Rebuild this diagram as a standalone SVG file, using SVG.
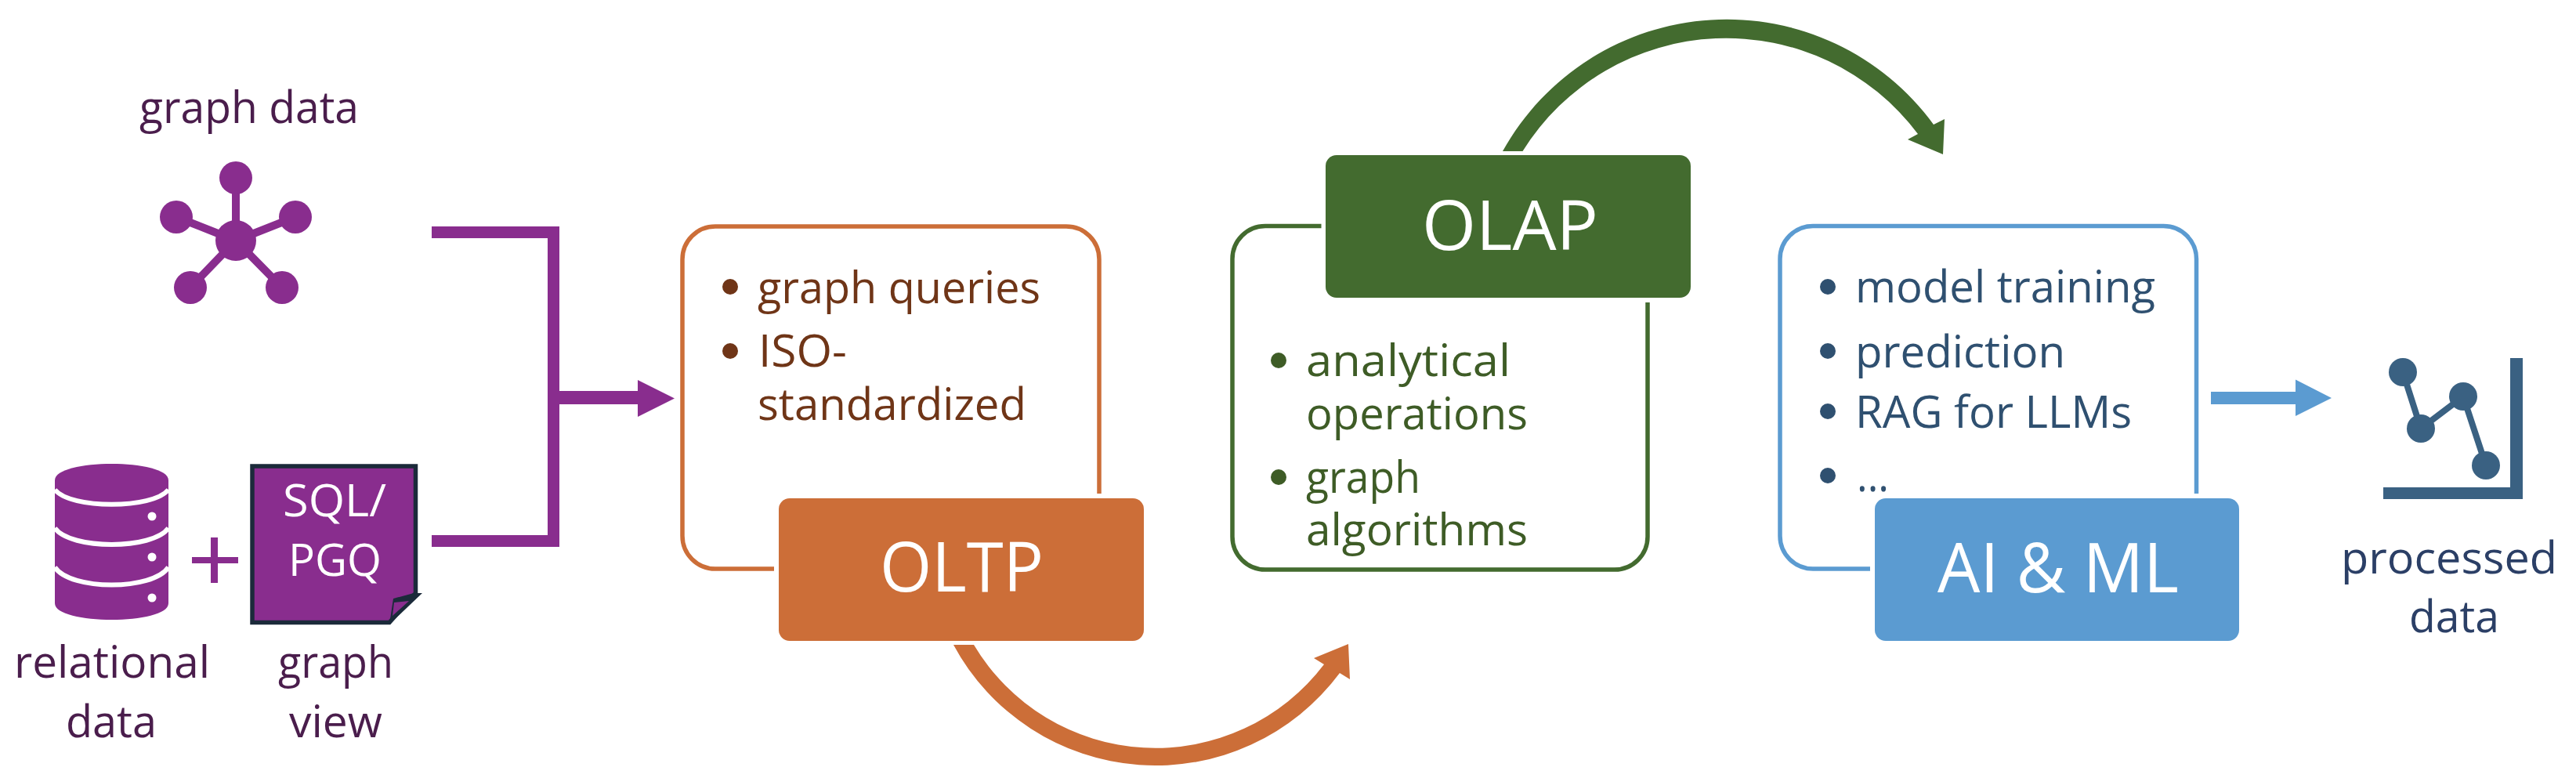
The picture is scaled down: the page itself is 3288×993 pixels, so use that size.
<svg xmlns="http://www.w3.org/2000/svg" width="3288" height="993" viewBox="0 0 3288 993">
<style>
text{font-family:"Open Sans","Noto Sans","Liberation Sans",sans-serif;font-weight:500}
.lab{font-size:56px}
.purple{fill:#4A1D4C}
.white{fill:#fff}
.title{font-size:88px;fill:#fff;font-weight:400}
.or{fill:#6F3517}.gr{fill:#3E5C26}.bl{fill:#2F5070}.pr{fill:#2B3F66}
.panel{fill:none;stroke-width:5.500}
.p{fill:#892D8E}
.ps{stroke:#892D8E;fill:none}
</style>
<rect width="3288" height="993" fill="#fff"/>
<g id="connectors">
<path class="p" d="M551 289H714V698H551V683H699V304H551Z"/>
<path class="p" d="M705 499H814V485L861 508.500L814 532V516H705Z"/>
<path fill="#CC6E38" d="M1217 823L1243 823A270 270 0 0 0 1690 848L1677 840L1721 822L1723 867L1710 859A293 293 0 0 1 1217 823Z"/>
<path fill="#436B2F" d="M1918 193L1943.500 193A306 306 0 0 1 2448 171L2435 178L2480 197L2482 152L2468 159A327 327 0 0 0 1918 193Z"/>
<path fill="#5B9BD1" d="M2822 500H2930V484.500L2976 508L2930 531V516H2822Z"/>
</g>
<g id="graph-data">
<text class="lab purple" x="178" y="157" textLength="280" lengthAdjust="spacingAndGlyphs">graph data</text>
<path class="ps" stroke-width="10" d="M301 227V307M225 277L301 307L377 277M243 367L301 307L360 367"/>
<circle class="p" cx="301" cy="307" r="26"/>
<circle class="p" cx="301" cy="227" r="21"/>
<circle class="p" cx="225" cy="277" r="21"/>
<circle class="p" cx="377" cy="277" r="21"/>
<circle class="p" cx="243" cy="367" r="21"/>
<circle class="p" cx="360" cy="367" r="21"/>
</g>
<g id="relational-data">
<path class="p" d="M70 613C70 585 215 585 215 613V770C215 798 70 798 70 770Z"/>
<path d="M70 625C90 650 195 650 215 625M70 674C90 702 195 702 215 674M70 724C90 754 195 754 215 724" fill="none" stroke="#fff" stroke-width="6"/>
<circle cx="194" cy="659" r="5.500" fill="#fff"/>
<circle cx="194" cy="711" r="5.500" fill="#fff"/>
<circle cx="194" cy="763" r="5.500" fill="#fff"/>
<text class="lab purple" x="18" y="865" textLength="250" lengthAdjust="spacingAndGlyphs">relational</text>
<text class="lab purple" x="84" y="941" textLength="116" lengthAdjust="spacingAndGlyphs">data</text>
</g>
<g id="plus"><path class="p" d="M245 711H269V686H278V711H304V719H278V744H269V719H245Z"/></g>
<g id="graph-view">
<path class="p" stroke="#1B2A3A" stroke-width="5.500" d="M322 595H530.500V757L497 794.500H322Z"/>
<path fill="#1B2A3A" d="M539 757L497 797L502 764L528 757Z"/>
<path fill="#892D8E" d="M522 767L503 769L501 786Z"/>
<text class="lab white" x="361" y="659" textLength="132" lengthAdjust="spacingAndGlyphs">SQL/</text>
<text class="lab white" x="368" y="735" textLength="119" lengthAdjust="spacingAndGlyphs">PGQ</text>
<text class="lab purple" x="355" y="865" textLength="147" lengthAdjust="spacingAndGlyphs">graph</text>
<text class="lab purple" x="369" y="941" textLength="119" lengthAdjust="spacingAndGlyphs">view</text>
</g>
<g id="oltp">
<path class="panel" stroke="#CC6E38" d="M988 726H913A42 42 0 0 1 871 684V331A42 42 0 0 1 913 289H1361A42 42 0 0 1 1403 331V630"/>
<rect x="994" y="636" width="466" height="182" rx="14" fill="#CC6E38"/>
<text class="title" x="1123" y="755" textLength="209" lengthAdjust="spacingAndGlyphs">OLTP</text>
<circle cx="932" cy="366" r="10" fill="#6F3517"/>
<circle cx="932" cy="448" r="10" fill="#6F3517"/>
<text class="lab or" x="967" y="387" textLength="361" lengthAdjust="spacingAndGlyphs">graph queries</text>
<text class="lab or" x="968" y="468" textLength="113" lengthAdjust="spacingAndGlyphs">ISO-</text>
<text class="lab or" x="967" y="536" textLength="343" lengthAdjust="spacingAndGlyphs">standardized</text>
</g>
<g id="olap">
<path class="panel" stroke="#436B2F" d="M1686.500 288.500H1615A42 42 0 0 0 1573 330.500V685A42 42 0 0 0 1615 727H2061A42 42 0 0 0 2103 685V386"/>
<rect x="1692" y="198" width="466" height="182" rx="14" fill="#436B2F"/>
<text class="title" x="1815" y="319" textLength="225" lengthAdjust="spacingAndGlyphs">OLAP</text>
<circle cx="1632" cy="460" r="10" fill="#3E5C26"/>
<circle cx="1632" cy="609" r="10" fill="#3E5C26"/>
<text class="lab gr" x="1667" y="480" textLength="261" lengthAdjust="spacingAndGlyphs">analytical</text>
<text class="lab gr" x="1667" y="548" textLength="283" lengthAdjust="spacingAndGlyphs">operations</text>
<text class="lab gr" x="1667" y="629" textLength="146" lengthAdjust="spacingAndGlyphs">graph</text>
<text class="lab gr" x="1667" y="696" textLength="283" lengthAdjust="spacingAndGlyphs">algorithms</text>
</g>
<g id="aiml">
<path class="panel" stroke="#5B9BD1" d="M2387 726H2314A42 42 0 0 1 2272 684V330.500A42 42 0 0 1 2314 288.500H2761.500A42 42 0 0 1 2803.500 330.500V630"/>
<rect x="2393" y="636" width="465" height="182" rx="14" fill="#5B9BD1"/>
<text class="title" x="2473" y="756" textLength="308" lengthAdjust="spacingAndGlyphs">AI &amp; ML</text>
<circle cx="2333" cy="366" r="10" fill="#2F5070"/>
<circle cx="2333" cy="448" r="10" fill="#2F5070"/>
<circle cx="2333" cy="525" r="10" fill="#2F5070"/>
<circle cx="2333" cy="607" r="10" fill="#2F5070"/>
<text class="lab bl" x="2368" y="386" textLength="383" lengthAdjust="spacingAndGlyphs">model training</text>
<text class="lab bl" x="2368" y="469" textLength="268" lengthAdjust="spacingAndGlyphs">prediction</text>
<text class="lab bl" x="2368" y="546" textLength="353" lengthAdjust="spacingAndGlyphs">RAG for LLMs</text>
<text class="lab bl" x="2370" y="627" textLength="41" lengthAdjust="spacingAndGlyphs">...</text>
</g>
<g id="processed-data">
<path fill="#3A6182" d="M3204 457H3220V637H3042V622H3204Z"/>
<path fill="none" stroke="#3A6182" stroke-width="8" d="M3067 475L3090 547L3144 506L3173 594"/>
<circle cx="3067" cy="475" r="18" fill="#3A6182"/>
<circle cx="3090" cy="547" r="18" fill="#3A6182"/>
<circle cx="3144" cy="506" r="18" fill="#3A6182"/>
<circle cx="3173" cy="594" r="18" fill="#3A6182"/>
<text class="lab pr" x="2988" y="732" textLength="276" lengthAdjust="spacingAndGlyphs">processed</text>
<text class="lab pr" x="3075" y="807" textLength="115" lengthAdjust="spacingAndGlyphs">data</text>
</g>
</svg>
